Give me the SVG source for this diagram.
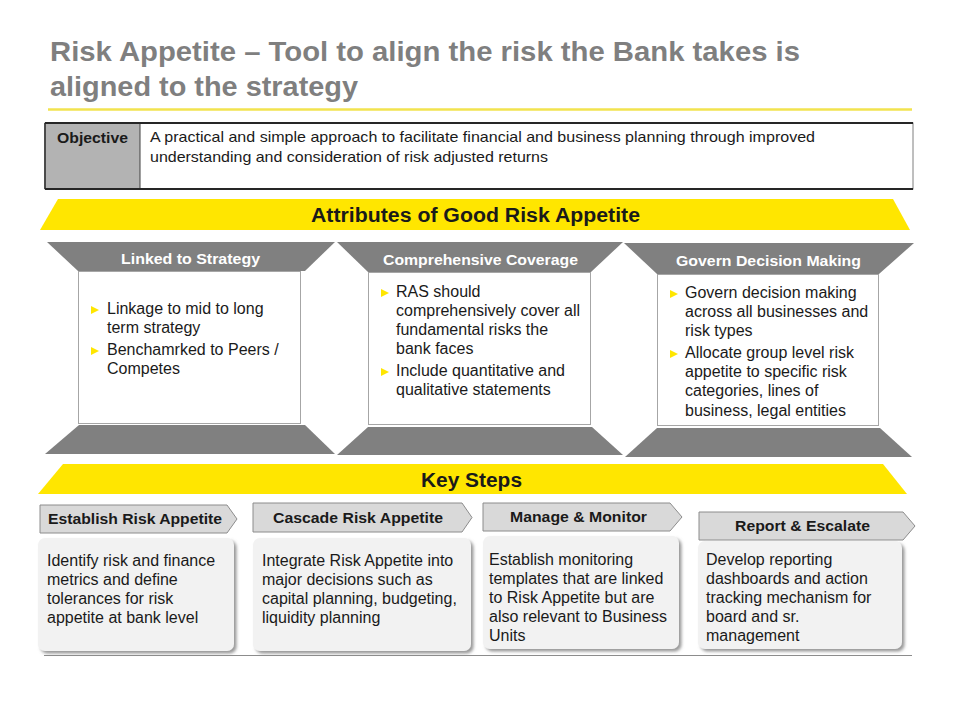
<svg xmlns="http://www.w3.org/2000/svg" width="960" height="720" viewBox="0 0 960 720">
<defs>
<style>
text{font-family:"Liberation Sans",Arial,sans-serif;}
.title{font-size:28px;font-weight:bold;fill:#7f7f7f;}
.obj{font-size:14.5px;fill:#1a1a1a;}
.objb{font-size:14.5px;font-weight:bold;fill:#1a1a1a;}
.ban{font-size:19.5px;font-weight:bold;fill:#1a1a1a;text-anchor:middle;}
.yel{fill:#ffe600;}
.gtrap{fill:#808080;}
.hdr{font-size:15.5px;font-weight:bold;fill:#ffffff;text-anchor:middle;}
.body{fill:#ffffff;stroke:#a6a6a6;stroke-width:1;}
.bt{font-size:16px;fill:#1a1a1a;}
.bul{fill:#ffe600;}
.shdr{fill:#d9d9d9;stroke:#8c8c8c;stroke-width:1;}
.sht{font-size:15.5px;font-weight:bold;fill:#1a1a1a;}
.sbody{fill:#f2f2f2;filter:url(#sh);}
.st{font-size:16px;fill:#1a1a1a;}
</style>
<filter id="sh" x="-10%" y="-10%" width="125%" height="130%">
<feDropShadow dx="2.5" dy="2.5" stdDeviation="1.5" flood-color="#7f7f7f" flood-opacity="0.8"/>
</filter>
<path id="tri" d="M0,-4 L8,0 L0,4 Z"/>
</defs>
<rect width="960" height="720" fill="#ffffff"/>

<g id="title">
<text class="title" x="50" y="61" textLength="750" lengthAdjust="spacingAndGlyphs">Risk Appetite – Tool to align the risk the Bank takes is</text>
<text class="title" x="50" y="96" textLength="308" lengthAdjust="spacingAndGlyphs">aligned to the strategy</text>
<line x1="48" y1="109.5" x2="912" y2="109.5" stroke="#f2e34f" stroke-width="2.5"/>
</g>

<g id="objective">
<rect x="45" y="123" width="868" height="66" fill="#ffffff" stroke="#7f7f7f" stroke-width="1"/>
<rect x="45" y="123" width="95" height="66" fill="#b3b3b3"/>
<line x1="140" y1="123" x2="140" y2="189" stroke="#404040" stroke-width="1"/>
<line x1="45" y1="123" x2="913" y2="123" stroke="#262626" stroke-width="2"/>
<line x1="45" y1="189" x2="913" y2="189" stroke="#262626" stroke-width="2"/>
<line x1="45" y1="123" x2="45" y2="189" stroke="#262626" stroke-width="1.5"/>
<text class="objb" x="57" y="143" textLength="71" lengthAdjust="spacingAndGlyphs">Objective</text>
<text class="obj" x="150" y="142" textLength="665" lengthAdjust="spacingAndGlyphs">A practical and simple approach to facilitate financial and business planning through improved</text>
<text class="obj" x="150" y="162" textLength="398" lengthAdjust="spacingAndGlyphs">understanding and consideration of risk adjusted returns</text>
</g>

<g id="attributes-banner">
<polygon class="yel" points="58,199 893,199 910,230 40,230"/>
<text class="ban" x="475.5" y="222" textLength="329" lengthAdjust="spacingAndGlyphs">Attributes of Good Risk Appetite</text>
</g>

<g id="attr-linked">
<polygon class="gtrap" points="47,242 335,242 305,271 78,271"/>
<text class="hdr" x="190.5" y="264" textLength="139" lengthAdjust="spacingAndGlyphs">Linked to Strategy</text>
<rect class="body" x="78.5" y="271.5" width="222" height="152"/>
<polygon class="gtrap" points="79,425 305,425 335,454 45,454"/>
<use href="#tri" class="bul" x="91" y="310"/>
<text class="bt" x="107" y="314">Linkage to mid to long</text>
<text class="bt" x="107" y="333">term strategy</text>
<use href="#tri" class="bul" x="91" y="351"/>
<text class="bt" x="107" y="355">Benchamrked to Peers /</text>
<text class="bt" x="107" y="374">Competes</text>
</g>

<g id="attr-comprehensive">
<polygon class="gtrap" points="337,242 623,242 591,272 368,272"/>
<text class="hdr" x="480.5" y="265" textLength="195" lengthAdjust="spacingAndGlyphs">Comprehensive Coverage</text>
<rect class="body" x="368.5" y="272.5" width="222" height="152"/>
<polygon class="gtrap" points="368,427 592,427 623,455 337,455"/>
<use href="#tri" class="bul" x="381" y="293"/>
<text class="bt" x="396" y="297">RAS should</text>
<text class="bt" x="396" y="316">comprehensively cover all</text>
<text class="bt" x="396" y="335">fundamental risks the</text>
<text class="bt" x="396" y="354">bank faces</text>
<use href="#tri" class="bul" x="381" y="372"/>
<text class="bt" x="396" y="376">Include quantitative and</text>
<text class="bt" x="396" y="395">qualitative statements</text>
</g>

<g id="attr-govern">
<polygon class="gtrap" points="624,243 914,243 879,274 657,274"/>
<text class="hdr" x="768.5" y="266" textLength="185" lengthAdjust="spacingAndGlyphs">Govern Decision Making</text>
<rect class="body" x="657.5" y="274.5" width="221" height="151"/>
<polygon class="gtrap" points="657,428 880,428 912,457 625,457"/>
<use href="#tri" class="bul" x="670" y="294"/>
<text class="bt" x="685" y="298">Govern decision making</text>
<text class="bt" x="685" y="317">across all businesses and</text>
<text class="bt" x="685" y="336">risk types</text>
<use href="#tri" class="bul" x="670" y="354"/>
<text class="bt" x="685" y="358">Allocate group level risk</text>
<text class="bt" x="685" y="377">appetite to specific risk</text>
<text class="bt" x="685" y="396">categories, lines of</text>
<text class="bt" x="685" y="416">business, legal entities</text>
</g>

<g id="keysteps-banner">
<polygon class="yel" points="63,464 883,464 907,494 38,494"/>
<text class="ban" x="471.5" y="487" textLength="101" lengthAdjust="spacingAndGlyphs">Key Steps</text>
</g>

<g id="step-establish">
<polygon class="shdr" points="40,505 227,505 237,519 227,533 40,533"/>
<text class="sht" x="48" y="524" textLength="174" lengthAdjust="spacingAndGlyphs">Establish Risk Appetite</text>
<rect class="sbody" x="38" y="538" width="196" height="113" rx="7"/>
<text class="st" x="47" y="566">Identify risk and finance</text>
<text class="st" x="47" y="585">metrics and define</text>
<text class="st" x="47" y="604">tolerances for risk</text>
<text class="st" x="47" y="623">appetite at bank level</text>
</g>

<g id="step-cascade">
<polygon class="shdr" points="253,503 462,503 472,517.5 462,532 253,532"/>
<text class="sht" x="358" y="523" text-anchor="middle" textLength="170" lengthAdjust="spacingAndGlyphs">Cascade Risk Appetite</text>
<rect class="sbody" x="253" y="538" width="218" height="113" rx="7"/>
<text class="st" x="262" y="566">Integrate Risk Appetite into</text>
<text class="st" x="262" y="585">major decisions such as</text>
<text class="st" x="262" y="604">capital planning, budgeting,</text>
<text class="st" x="262" y="623">liquidity planning</text>
</g>

<g id="step-manage">
<polygon class="shdr" points="483,503 670,503 682,517 670,531 483,531"/>
<text class="sht" x="578.5" y="522" text-anchor="middle" textLength="137" lengthAdjust="spacingAndGlyphs">Manage &amp; Monitor</text>
<rect class="sbody" x="483" y="536" width="196" height="113" rx="7"/>
<text class="st" x="489" y="565">Establish monitoring</text>
<text class="st" x="489" y="584">templates that are linked</text>
<text class="st" x="489" y="603">to Risk Appetite but are</text>
<text class="st" x="489" y="622">also relevant to Business</text>
<text class="st" x="489" y="641">Units</text>
</g>

<g id="step-report">
<polygon class="shdr" points="699,512 903,512 915,526 903,540 699,540"/>
<text class="sht" x="802.5" y="531" text-anchor="middle" textLength="135" lengthAdjust="spacingAndGlyphs">Report &amp; Escalate</text>
<rect class="sbody" x="698" y="541" width="204" height="108" rx="7"/>
<text class="st" x="706" y="565">Develop reporting</text>
<text class="st" x="706" y="584">dashboards and action</text>
<text class="st" x="706" y="603">tracking mechanism for</text>
<text class="st" x="706" y="622">board and sr.</text>
<text class="st" x="706" y="641">management</text>
</g>

<g id="connectors">
<line x1="44" y1="655.5" x2="912" y2="655.5" stroke="#8c8c8c" stroke-width="1"/>
</g>
</svg>
